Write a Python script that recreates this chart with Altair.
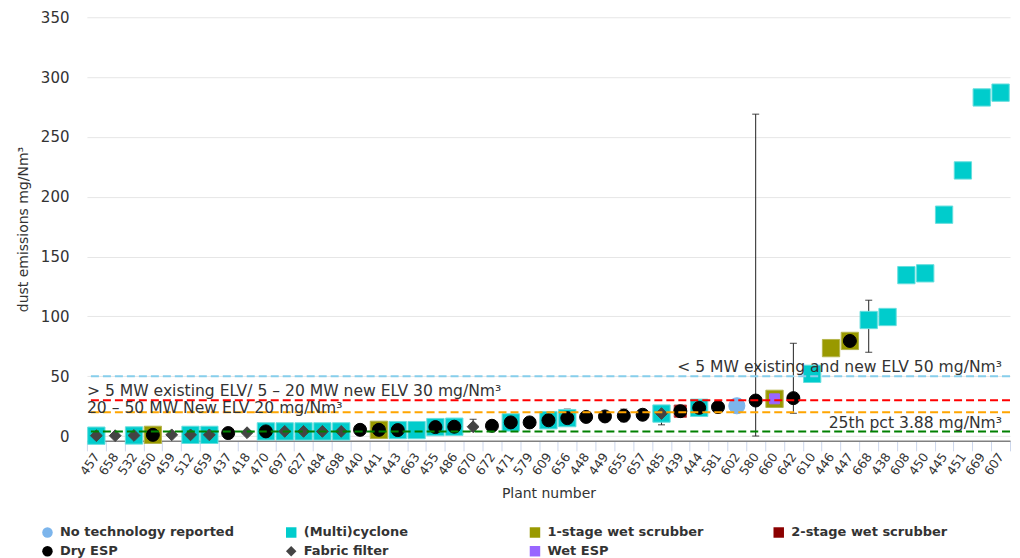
import altair as alt
import pandas as pd

# ---------------- data ----------------
plants = ["457", "658", "532", "650", "459", "512", "659", "437", "418", "470",
          "697", "627", "484", "698", "440", "441", "443", "663", "455", "486",
          "670", "672", "471", "579", "609", "656", "448", "449", "655", "657",
          "485", "439", "444", "581", "602", "580", "660", "642", "610", "446",
          "447", "668", "438", "608", "450", "445", "451", "669", "607"]
dust = [0.3, 0.3, 0.5, 1.0, 1.0, 1.0, 1.0, 2.5, 2.8, 3.9,
        3.9, 3.9, 3.9, 3.9, 5.2, 5.2, 5.0, 5.0, 7.5, 7.8,
        7.8, 8.6, 11.4, 11.4, 13.2, 15.0, 16.0, 16.4, 17.0, 17.8,
        18.8, 20.8, 23.6, 24.2, 25.3, 29.7, 31.1, 31.7, 52.0, 73.5,
        79.5, 97.0, 99.5, 134.5, 136.0, 185.0, 222.0, 283.0, 287.0]

none_reported = ["602"]
cyclone = ["457", "532", "512", "659", "470", "697", "627", "484", "698", "443",
           "663", "455", "486", "471", "609", "656", "485", "444", "610", "668",
           "438", "608", "450", "445", "451", "669", "607"]
scrubber1 = ["650", "441", "660", "446", "447"]
scrubber2 = ["439"]
dry_esp = ["650", "437", "470", "440", "441", "443", "455", "486", "672", "471",
           "579", "609", "656", "448", "449", "655", "657", "439", "444", "581",
           "580", "642", "447"]
fabric = ["457", "658", "532", "459", "512", "659", "418", "697", "627", "484",
          "698", "670", "485"]
wet_esp = ["660"]

err_plants = ["670", "656", "448", "449", "655", "657", "485", "444", "580", "642", "668", "608"]
err_low = [4.0, 14.0, 13.0, 13.5, 12.0, 14.0, 9.4, 21.0, 0.0, 19.0, 70.0, 131.0]
err_high = [14.0, 22.5, 18.0, 19.5, 22.5, 21.0, 22.8, 26.0, 269.0, 77.5, 113.5, 141.0]

ref_values = [50, 30, 20, 3.88]
ref_labels = ["< 5 MW existing and new ELV 50 mg/Nm³",
              "> 5 MW existing ELV/ 5 – 20 MW new ELV 30 mg/Nm³",
              "20 – 50 MW New ELV 20 mg/Nm³",
              "25th pct 3.88 mg/Nm³"]

# ---------------- styles ----------------
tech_names = ["No technology reported", "(Multi)cyclone", "1-stage wet scrubber",
              "2-stage wet scrubber", "Dry ESP", "Fabric filter", "Wet ESP"]
tech_members = [none_reported, cyclone, scrubber1, scrubber2, dry_esp, fabric, wet_esp]
tech_colors = ["#7cb5ec", "#00cccc", "#999900", "#8b0000", "#000000", "#444444", "#9966ff"]
tech_strokes = ["#7cb5ec", "#66dede", "#b5b54d", "#c04848", "#000000", "#444444", "#9966ff"]
tech_shapes = ["circle", "square", "square", "square", "circle", "diamond", "square"]
tech_sizes = [260, 300, 300, 150, 169, 140, 100]
tech_layer = [2, 0, 0, 1, 2, 2, 1]

ref_colors = ["#87ceeb", "#ff0000", "#ffa500", "#008000"]
ref_align = ["right", "left", "left", "right"]
ref_dy = [-4, -4, 1, -3]

W, H = 924, 424
FONT = "DejaVu Sans"
TXT = "#333333"
YTITLE = "dust emissions mg/Nm³"

value_of = dict(zip(plants, dust))
rows = []
for name, members, col, stk, size, layer in zip(tech_names, tech_members, tech_colors,
                                                tech_strokes, tech_sizes, tech_layer):
    for p in members:
        rows.append({"plant": p, "dust": value_of[p], "tech": name,
                     "msize": size, "mstroke": stk, "layer": layer})
df = pd.DataFrame(rows)

err_df = pd.DataFrame({"plant": err_plants, "lo": err_low, "hi": err_high})
cap_df = pd.DataFrame({"plant": err_plants + err_plants, "dust": err_low + err_high})

x_enc = alt.X("plant:N", sort=plants,
              scale=alt.Scale(type="band", domain=plants, paddingInner=0, paddingOuter=0),
              axis=alt.Axis(title="Plant number", labelAngle=305, labelAlign="right",
                            labelBaseline="middle", tickBand="extent", tickColor="#ccd6eb",
                            tickSize=10, labelPadding=3, domainColor="#808080",
                            domainWidth=1.5, grid=False, labelFont=FONT, labelFontSize=12.5,
                            labelColor=TXT, titleFont=FONT, titleFontSize=14,
                            titleFontWeight="normal", titleColor=TXT, titlePadding=9))
y_scale = alt.Scale(domain=[-4, 350], nice=False, zero=False)
y_axis = alt.Axis(title=YTITLE, values=[0, 50, 100, 150, 200, 250, 300, 350],
                  grid=True, gridColor="#e6e6e6", domain=False, ticks=False,
                  labelPadding=18, labelFont=FONT, labelFontSize=15, labelColor=TXT,
                  titleFont=FONT, titleFontSize=14, titleFontWeight="normal",
                  titleColor=TXT, titlePadding=10)

legend = alt.Legend(title=None, orient="none", legendX=-46, legendY=509, columns=4,
                    direction="horizontal", gridAlign="all", columnPadding=50,
                    rowPadding=5, symbolSize=110, symbolStrokeWidth=0, labelLimit=400,
                    labelFont=FONT, labelFontSize=13, labelFontWeight="bold",
                    labelColor=TXT, labelOffset=6)

errbars = alt.Chart(err_df).mark_rule(color="#222222", strokeWidth=1).encode(
    x=x_enc, y=alt.Y("lo:Q", scale=y_scale, axis=y_axis), y2="hi:Q")
caps = alt.Chart(cap_df).mark_tick(color="#222222", thickness=1.2, size=7).encode(
    x=x_enc, y=alt.Y("dust:Q", scale=y_scale, axis=y_axis))

points = alt.Chart(df).mark_point(filled=True, opacity=1, strokeWidth=1).encode(
    x=x_enc,
    y=alt.Y("dust:Q", scale=y_scale, axis=y_axis),
    color=alt.Color("tech:N", scale=alt.Scale(domain=tech_names, range=tech_colors),
                    legend=legend),
    shape=alt.Shape("tech:N", scale=alt.Scale(domain=tech_names, range=tech_shapes),
                    legend=legend),
    size=alt.Size("msize:Q", scale=None),
    stroke=alt.Stroke("mstroke:N", scale=None),
    order=alt.Order("layer:Q"),
)

layers = [errbars, caps, points]
for v, lab, col, al, dy in zip(ref_values, ref_labels, ref_colors, ref_align, ref_dy):
    d = pd.DataFrame({"dust": [v], "label": [lab]})
    layers.append(alt.Chart(d).mark_rule(color=col, strokeDash=[8, 4], strokeWidth=2).encode(
        y=alt.Y("dust:Q", scale=y_scale, axis=y_axis)))
    layers.append(alt.Chart(d).mark_text(align=al, baseline="alphabetic", dy=dy, font=FONT,
                                         fontSize=15.6, color=TXT).encode(
        x=alt.value(0 if al == "left" else W - 8),
        y=alt.Y("dust:Q", scale=y_scale, axis=y_axis),
        text="label:N"))

chart = alt.layer(*layers).properties(
    width=W, height=H,
    padding={"left": 8, "top": 2, "right": 0, "bottom": 0},
).configure_view(stroke=None)

chart.save("out.html", embed_options={"renderer": "svg", "actions": False})
